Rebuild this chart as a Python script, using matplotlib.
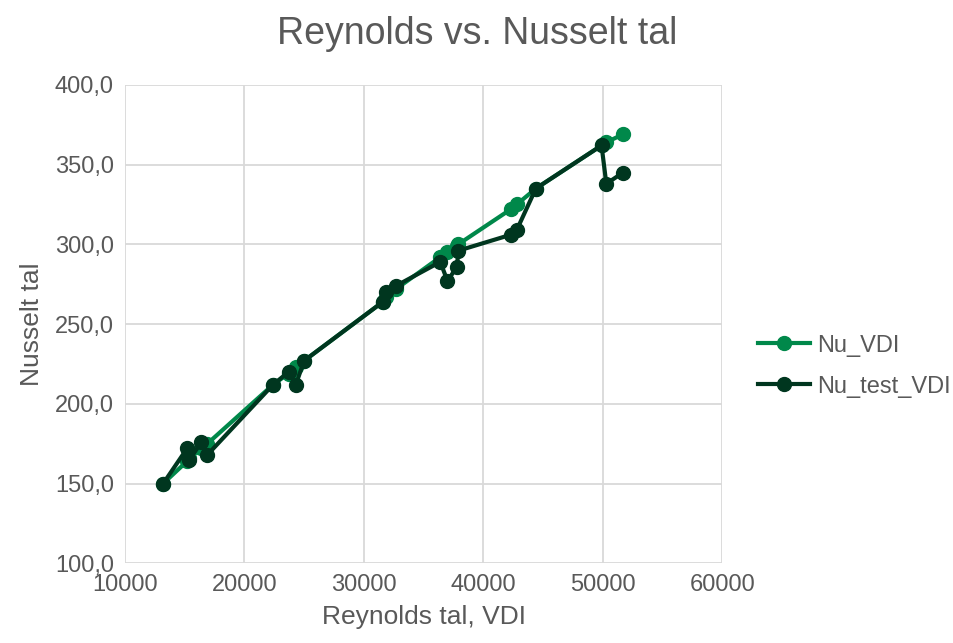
import matplotlib.pyplot as plt
import numpy as np

plt.rcParams['font.family'] = ['Liberation Sans', 'DejaVu Sans']

# Reynolds tal (shared x) and the two Nusselt series
reynolds = [13200, 15200, 15400, 16400, 16900, 22400, 23700, 24300, 25000,
            31600, 31850, 32700, 36400, 37000, 37800, 37900, 42300, 42800,
            44400, 49900, 50300, 51700]
nu_vdi = [150, 164, 166, 172, 175, 212, 219, 223, 227,
          264, 267, 272, 292, 295, 299, 300, 322, 325,
          335, 362, 364, 369]
nu_test_vdi = [150, 172, 165, 176, 168, 212, 220, 212, 227,
               264, 270, 274, 289, 277, 286, 296, 306, 309,
               335, 362, 338, 345]

txt = '#595959'
fig = plt.figure(figsize=(9.54, 6.43), dpi=100)
ax = fig.add_axes([0.131, 0.124, 0.626, 0.744])

ax.plot(reynolds, nu_vdi, color='#00884A', lw=3, marker='o', ms=10, label='Nu_VDI', zorder=3)
ax.plot(reynolds, nu_test_vdi, color='#00361F', lw=3, marker='o', ms=10, label='Nu_test_VDI', zorder=4)

ax.set_xlim(10000, 60000)
ax.set_ylim(100, 400)
ax.set_xticks(np.arange(10000, 60001, 10000))
ax.set_yticks(np.arange(100, 401, 50))
ax.set_yticklabels([f'{v:.1f}'.replace('.', ',') for v in np.arange(100, 401, 50)])
ax.grid(True, color='#d9d9d9', lw=1.3)
ax.set_axisbelow(True)
for s in ax.spines.values():
    s.set_visible(False)
ax.tick_params(length=0, labelsize=17, colors=txt, pad=8)

ax.set_xlabel('Reynolds tal, VDI', fontsize=19, color=txt, labelpad=6)
ax.set_ylabel('Nusselt tal', fontsize=19, color=txt, labelpad=8)
fig.suptitle('Reynolds vs. Nusselt tal', fontsize=27, color=txt, x=0.5, y=0.975)

ax.legend(loc='center left', bbox_to_anchor=(1.044, 0.412), frameon=False, borderaxespad=0,
          fontsize=17, labelcolor=txt, handlelength=2.2, handletextpad=0.3, labelspacing=0.8)

fig.savefig('out.png', dpi=100)
